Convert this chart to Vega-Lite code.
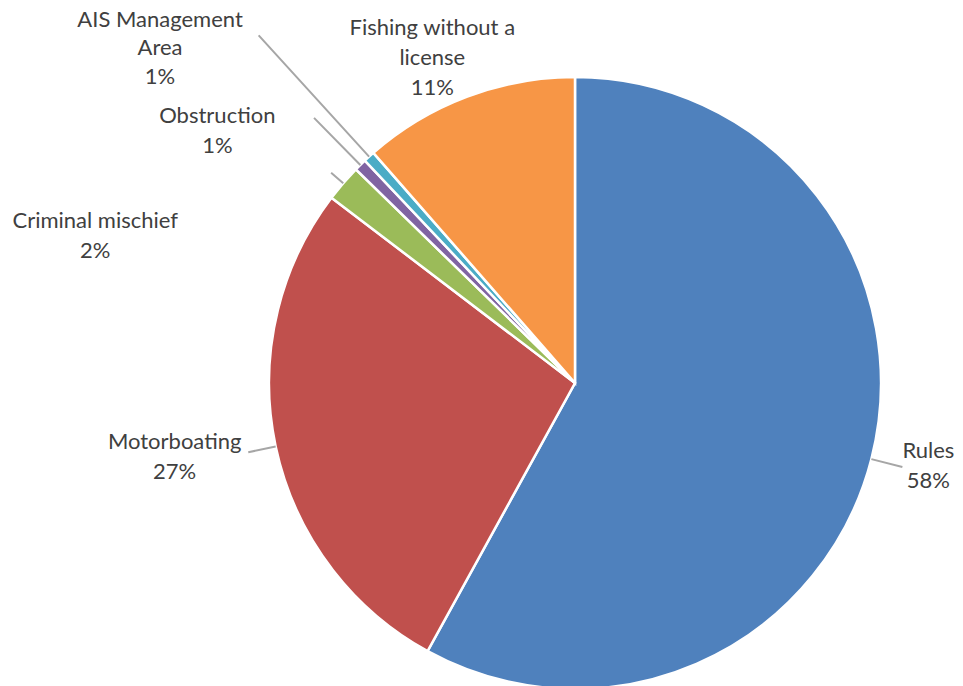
{
  "$schema": "https://vega.github.io/schema/vega-lite/v6.json",
  "width": 774,
  "height": 606,
  "autosize": {"type": "none"},
  "padding": {"left": 188, "top": 80, "right": 0, "bottom": 0},
  "background": "white",
  "config": {"view": {"stroke": null}},
  "data": {
    "values": [
      {"name": "Rules", "value": 58.0, "label": "Rules\n58%"},
      {"name": "Motorboating", "value": 27.35, "label": "Motorboating\n27%"},
      {"name": "Criminal mischief", "value": 1.95, "label": "Criminal mischief\n2%"},
      {"name": "Obstruction", "value": 0.65, "label": "Obstruction\n1%"},
      {"name": "AIS Management Area", "value": 0.6, "label": "AIS Management\nArea\n1%"},
      {"name": "Fishing without a license", "value": 11.45, "label": "Fishing without a\nlicense\n11%"}
    ]
  },
  "transform": [
    {"window": [{"op": "row_number", "as": "idx"}]},
    {"stack": "value", "groupby": [], "sort": [{"field": "idx", "order": "ascending"}], "as": ["start", "end"]},
    {"calculate": "(datum.start + datum.end) / 2", "as": "mid"}
  ],
  "layer": [
    {
      "mark": {"type": "arc", "outerRadius": 306, "stroke": "white", "strokeWidth": 2.5},
      "encoding": {
        "theta": {"field": "start", "type": "quantitative", "stack": null, "scale": {"domain": [0, 100]}},
        "theta2": {"field": "end"},
        "color": {
          "field": "name", "type": "nominal", "legend": null,
          "scale": {
            "domain": ["Rules", "Motorboating", "Criminal mischief", "Obstruction", "AIS Management Area", "Fishing without a license"],
            "range": ["#4F81BD", "#C0504D", "#9BBB59", "#8064A2", "#4BACC6", "#F79646"]
          }
        }
      }
    },
    {
      "transform": [{"filter": "datum.name === 'Rules'"}],
      "mark": {"type": "arc", "innerRadius": 306, "outerRadius": 338, "stroke": "#A6A6A6", "strokeWidth": 2, "fill": null},
      "encoding": {
        "theta": {"field": "mid", "type": "quantitative", "stack": null, "scale": {"domain": [0, 100]}},
        "theta2": {"field": "mid"}
      }
    },
    {
      "transform": [{"filter": "datum.name === 'Motorboating'"}],
      "mark": {"type": "arc", "innerRadius": 306, "outerRadius": 334, "stroke": "#A6A6A6", "strokeWidth": 2, "fill": null},
      "encoding": {
        "theta": {"field": "mid", "type": "quantitative", "stack": null, "scale": {"domain": [0, 100]}},
        "theta2": {"field": "mid"}
      }
    },
    {
      "transform": [{"filter": "datum.name === 'Obstruction'"}],
      "mark": {"type": "arc", "innerRadius": 306, "outerRadius": 372, "stroke": "#A6A6A6", "strokeWidth": 2, "fill": null},
      "encoding": {
        "theta": {"field": "mid", "type": "quantitative", "stack": null, "scale": {"domain": [0, 100]}},
        "theta2": {"field": "mid"}
      }
    },
    {
      "transform": [{"filter": "datum.name === 'AIS Management Area'"}],
      "mark": {"type": "arc", "innerRadius": 306, "outerRadius": 470, "stroke": "#A6A6A6", "strokeWidth": 2, "fill": null},
      "encoding": {
        "theta": {"field": "mid", "type": "quantitative", "stack": null, "scale": {"domain": [0, 100]}},
        "theta2": {"field": "mid"}
      }
    },
    {
      "transform": [{"filter": "datum.name === 'Criminal mischief'"}],
      "mark": {"type": "arc", "innerRadius": 306, "outerRadius": 322, "stroke": "#A6A6A6", "strokeWidth": 2, "fill": null},
      "encoding": {
        "theta": {"field": "mid", "type": "quantitative", "stack": null, "scale": {"domain": [0, 100]}},
        "theta2": {"field": "mid"}
      }
    },
    {
      "transform": [{"filter": "datum.name === 'Rules'"}],
      "mark": {"type": "text", "radius": 306, "dx": 57, "dy": -8, "align": "center", "baseline": "middle", "lineBreak": "\n", "lineHeight": 30, "font": "Lato", "fontSize": 22, "fill": "#404040"},
      "encoding": {
        "theta": {"field": "mid", "type": "quantitative", "stack": null, "scale": {"domain": [0, 100]}},
        "text": {"field": "label", "type": "nominal"}
      }
    },
    {
      "transform": [{"filter": "datum.name === 'Motorboating'"}],
      "mark": {"type": "text", "radius": 306, "dx": -101, "dy": -4, "align": "center", "baseline": "middle", "lineBreak": "\n", "lineHeight": 30, "font": "Lato", "fontSize": 22, "fill": "#404040"},
      "encoding": {
        "theta": {"field": "mid", "type": "quantitative", "stack": null, "scale": {"domain": [0, 100]}},
        "text": {"field": "label", "type": "nominal"}
      }
    },
    {
      "transform": [{"filter": "datum.name === 'Criminal mischief'"}],
      "mark": {"type": "text", "radius": 306, "dx": -248, "dy": 38, "align": "center", "baseline": "middle", "lineBreak": "\n", "lineHeight": 30, "font": "Lato", "fontSize": 22, "fill": "#404040"},
      "encoding": {
        "theta": {"field": "mid", "type": "quantitative", "stack": null, "scale": {"domain": [0, 100]}},
        "text": {"field": "label", "type": "nominal"}
      }
    },
    {
      "transform": [{"filter": "datum.name === 'Obstruction'"}],
      "mark": {"type": "text", "radius": 306, "dx": -143, "dy": -49, "align": "center", "baseline": "middle", "lineBreak": "\n", "lineHeight": 30, "font": "Lato", "fontSize": 22, "fill": "#404040"},
      "encoding": {
        "theta": {"field": "mid", "type": "quantitative", "stack": null, "scale": {"domain": [0, 100]}},
        "text": {"field": "label", "type": "nominal"}
      }
    },
    {
      "transform": [{"filter": "datum.name === 'AIS Management Area'"}],
      "mark": {"type": "text", "radius": 306, "dx": -209, "dy": -137, "align": "center", "baseline": "middle", "lineBreak": "\n", "lineHeight": 28.5, "font": "Lato", "fontSize": 22, "fill": "#404040"},
      "encoding": {
        "theta": {"field": "mid", "type": "quantitative", "stack": null, "scale": {"domain": [0, 100]}},
        "text": {"field": "label", "type": "nominal"}
      }
    },
    {
      "transform": [{"filter": "datum.name === 'Fishing without a license'"}],
      "mark": {"type": "text", "radius": 306, "dx": -35, "dy": -69, "align": "center", "baseline": "middle", "lineBreak": "\n", "lineHeight": 30, "font": "Lato", "fontSize": 22, "fill": "#404040"},
      "encoding": {
        "theta": {"field": "mid", "type": "quantitative", "stack": null, "scale": {"domain": [0, 100]}},
        "text": {"field": "label", "type": "nominal"}
      }
    }
  ]
}
